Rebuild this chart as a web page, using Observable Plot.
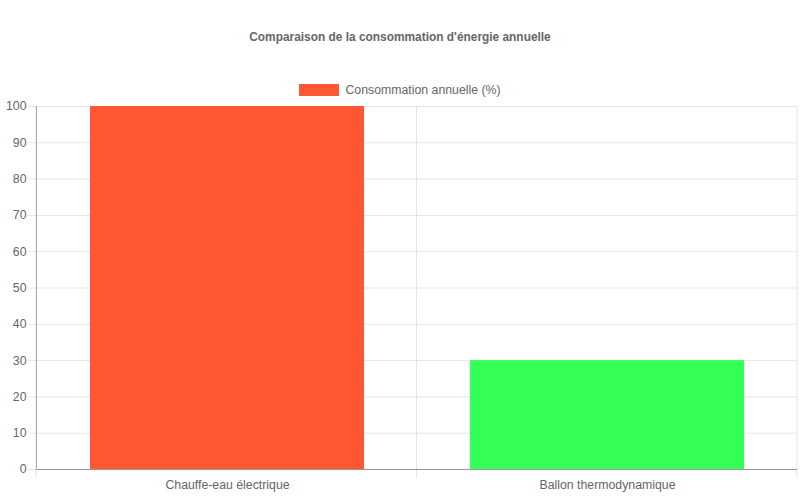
<!DOCTYPE html>
<html>
<head>
<meta charset="utf-8">
<script src="https://cdn.jsdelivr.net/npm/d3@7"></script>
<script src="https://cdn.jsdelivr.net/npm/@observablehq/plot@0.6"></script>
<style>
  html, body { margin: 0; padding: 0; background: #fff; }
  body { width: 800px; height: 500px; position: relative; overflow: hidden;
         font-family: "Liberation Sans", Arial, Helvetica, sans-serif; color: #666; }
  #title { position: absolute; left: 0; top: 29px; width: 800px; text-align: center;
           font-size: 11.9px; font-weight: bold; line-height: 16px; color: #666; }
  #legend { position: absolute; left: 0; top: 82px; width: 800px; display: flex;
            justify-content: center; align-items: center; font-size: 12.3px; line-height: 16px; color: #666; }
  #legend .sw { width: 40px; height: 12px; margin-right: 6px; }
  #chart { position: absolute; left: 0; top: 100px; }
</style>
</head>
<body>
<div id="title"></div>
<div id="legend"></div>
<div id="chart"></div>
<script>
const titleText = "Comparaison de la consommation d'énergie annuelle";
const seriesLabel = "Consommation annuelle (%)";
const categories = ["Chauffe-eau électrique", "Ballon thermodynamique"];
const values = [100, 30];
const colors = ["#FF5733", "#33FF57"];
const yTicks = [0, 10, 20, 30, 40, 50, 60, 70, 80, 90, 100];

document.getElementById("title").textContent = titleText;
const legend = document.getElementById("legend");
const sw = document.createElement("div");
sw.className = "sw";
sw.style.background = colors[0];
legend.appendChild(sw);
const lt = document.createElement("span");
lt.textContent = seriesLabel;
legend.appendChild(lt);

const data = categories.map((c, i) => ({cat: c, val: values[i], color: colors[i]}));

// vertical category boundary grid lines (Chart.js style), computed from plot dimensions
function boundaryGrid(index, scales, vals, dims) {
  const n = categories.length;
  const x0 = dims.marginLeft, x1 = dims.width - dims.marginRight;
  const y0 = dims.marginTop, y1 = dims.height - dims.marginBottom;
  const g = d3.create("svg:g");
  d3.range(n + 1).forEach(i => {
    const x = x0 + i * (x1 - x0) / n;
    g.append("line").attr("x1", x).attr("x2", x).attr("y1", y0).attr("y2", y1 + 9)
      .attr("stroke", "rgba(0,0,0,0.1)").attr("stroke-width", 1);
  });
  return g.node();
}

const plot = Plot.plot({
  width: 800,
  height: 400,
  marginTop: 6,
  marginBottom: 31,
  marginLeft: 36,
  marginRight: 3,
  style: {fontFamily: "'Liberation Sans', Arial, Helvetica, sans-serif", fontSize: "12.3px", color: "#666", background: "#fff"},
  x: {domain: categories, paddingInner: 0.28, paddingOuter: 0.14, label: null},
  y: {domain: [0, 100], ticks: yTicks, label: null},
  color: {type: "identity"},
  marks: [
    Plot.gridY(yTicks, {stroke: "#000", strokeOpacity: 0.1}),
    boundaryGrid,
    Plot.barY(data, {x: "cat", y: "val", fill: "color"}),
    Plot.axisY(yTicks, {tickSize: 8, tickPadding: 2, stroke: "#000", strokeOpacity: 0.1, fill: "#666", fontSize: 12.3, label: null}),
    Plot.axisX({tickSize: 0, tickPadding: 11, fill: "#666", fontSize: 12.3, label: null}),
    Plot.ruleY([0], {stroke: "#999", strokeWidth: 1}),
    Plot.frame({anchor: "left", stroke: "#aaa"})
  ]
});
document.getElementById("chart").appendChild(plot);
</script>
</body>
</html>
